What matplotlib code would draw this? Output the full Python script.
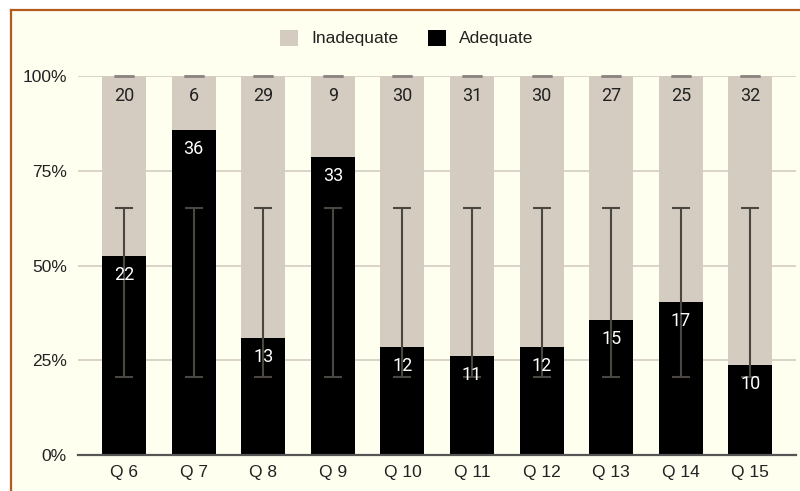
import matplotlib
matplotlib.use("Agg")
import matplotlib.pyplot as plt
from matplotlib.patches import Patch, Rectangle
from matplotlib.lines import Line2D
import numpy as np

categories = ["Q 6", "Q 7", "Q 8", "Q 9", "Q 10", "Q 11", "Q 12", "Q 13", "Q 14", "Q 15"]
adequate = [22, 36, 13, 33, 12, 11, 12, 15, 17, 10]
inadequate = [20, 6, 29, 9, 30, 31, 30, 27, 25, 32]
err_low = [20.7] * 10   # percent
err_high = [65.2] * 10  # percent
yticks = [0, 25, 50, 75, 100]
ytick_labels = ["0%", "25%", "50%", "75%", "100%"]

C_ADEQ = "#000000"
C_INAD = "#d5ccc1"
C_BG = "#fffff0"
C_BORDER = "#b35a1f"
C_ERR = "#4a4642"

W, H = 800, 491
fig = plt.figure(figsize=(W / 100, H / 100), dpi=100, facecolor="white")
fig.patches.append(Rectangle((11 / W, 0), 1, 1 - 10 / H, transform=fig.transFigure,
                             facecolor=C_BG, edgecolor="none", zorder=-5))
fig.lines.append(Line2D([11 / W, 1], [1 - 10 / H, 1 - 10 / H], transform=fig.transFigure,
                        color=C_BORDER, lw=1.6, zorder=-4))
fig.lines.append(Line2D([11 / W, 11 / W], [0, 1 - 10 / H], transform=fig.transFigure,
                        color=C_BORDER, lw=1.6, zorder=-4))

ax = fig.add_axes([78 / W, 36 / H, (796 - 78) / W, (455 - 76) / H])
ax.set_facecolor("none")

x = np.arange(len(categories))
tot = np.array(adequate) + np.array(inadequate)
pa = np.array(adequate) / tot * 100
pi = np.array(inadequate) / tot * 100
bw = 0.632

ax.bar(x, pa, width=bw, color=C_ADEQ, zorder=2)
ax.bar(x, pi, width=bw, bottom=pa, color=C_INAD, zorder=2)

lo = np.array(err_low)
hi = np.array(err_high)
mid = (lo + hi) / 2
ax.errorbar(x, mid, yerr=(hi - lo) / 2, fmt="none", ecolor=C_ERR, elinewidth=1.5,
            capsize=6.8, capthick=1.5, zorder=3)
ax.errorbar(x, np.full(len(x), 100.0), yerr=0, fmt="none", ecolor="#8a8580",
            elinewidth=1.5, capsize=7.2, capthick=1.8, zorder=3, clip_on=False)

for i in range(len(x)):
    ax.text(x[i], pa[i] - 5.0, str(adequate[i]), ha="center", va="center",
            color="white", fontsize=13, family="Roboto", zorder=4)
    ax.text(x[i], 100 - 5.2, str(inadequate[i]), ha="center", va="center",
            color="#222222", fontsize=13, family="Roboto", zorder=4)

ax.set_xlim(-0.661, 9.655)
ax.set_ylim(0, 100)
ax.set_yticks(yticks)
ax.set_yticklabels(ytick_labels)
ax.set_xticks(x)
ax.set_xticklabels(categories)
for s in ["top", "right", "left"]:
    ax.spines[s].set_visible(False)
ax.spines["bottom"].set_color("#555555")
ax.spines["bottom"].set_linewidth(1.6)
ax.spines["bottom"].set_zorder(5)
ax.tick_params(axis="both", length=0, labelsize=12.5, labelcolor="#222222")
ax.tick_params(axis="y", pad=8)
ax.tick_params(axis="x", pad=7)
for lab in ax.get_xticklabels() + ax.get_yticklabels():
    lab.set_family("Liberation Sans")
for yv in yticks[1:]:
    ax.axhline(yv, color="#d8d0c5", lw=1.3, zorder=1)

handles = [Patch(facecolor=C_INAD, edgecolor="none", label="Inadequate"),
           Patch(facecolor=C_ADEQ, edgecolor="none", label="Adequate")]
fig.legend(handles=handles, loc="center", bbox_to_anchor=(0.508, 1 - 38 / H), ncol=2,
           frameon=False, prop={"family": "Liberation Sans", "size": 12.5},
           handlelength=1.05, handleheight=1.05, handletextpad=0.75, columnspacing=1.7,
           labelcolor="#222222")

fig.savefig("out.png", dpi=100, facecolor="white")
